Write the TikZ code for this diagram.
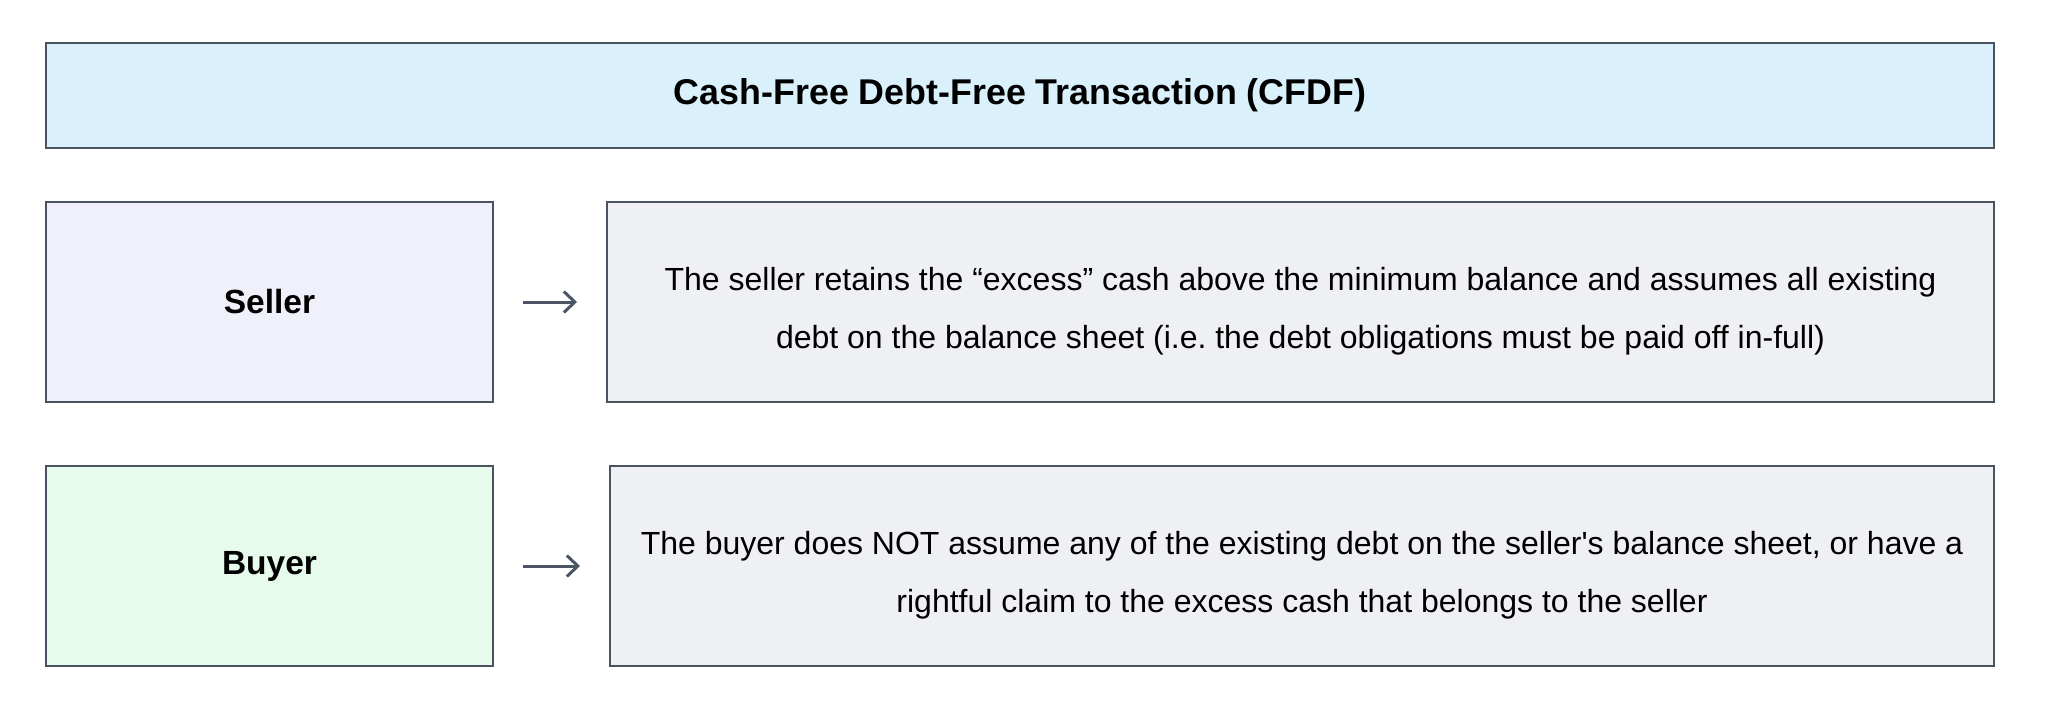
\documentclass[tikz,border=0pt]{standalone}
\usepackage{fontspec}
\setmainfont{Liberation Sans}
\usetikzlibrary{arrows.meta}
\frenchspacing
\definecolor{bordc}{HTML}{4A5461}
\definecolor{titlefill}{HTML}{DAF0FB}
\definecolor{sellerfill}{HTML}{EFF0F9}
\definecolor{buyerfill}{HTML}{E7FBEC}
\definecolor{descfill}{HTML}{EFF0F4}
\definecolor{arrc}{HTML}{4B5563}
\tikzset{
  boxbase/.style={draw=bordc, line width=1.8pt, inner sep=0pt, outer sep=0pt, anchor=north west},
  titlebox/.style={boxbase, fill=titlefill, minimum width=1948pt, minimum height=105pt, font=\fontsize{35.8}{42}\selectfont\bfseries},
  rolebox/.style={boxbase, minimum width=447pt, minimum height=200pt, font=\fontsize{33.5}{40}\selectfont\bfseries},
  descbox/.style={boxbase, fill=descfill, minimum height=200pt},
  desctext/.style={align=center, inner sep=0pt, font=\fontsize{32}{57.5}\selectfont},
  conn/.style={draw=arrc, line width=3pt, -{Straight Barb[length=11pt,width=21pt,line width=3pt]}, shorten <=30pt, shorten >=30pt}
}
\begin{document}
\begin{tikzpicture}[x=1pt,y=1pt]
\useasboundingbox (0,0) rectangle (2048,-726);
\node[titlebox] (title) at (46,-43) {Cash-Free Debt-Free Transaction (CFDF)};
\node[rolebox, fill=sellerfill] (seller) at (46,-202) {Seller};
\node[descbox, minimum width=1387pt] (desc1) at (607,-202) {};
\node[desctext] (desc1text) at ([yshift=-9pt]desc1.center) {The seller retains the “excess” cash above the minimum balance and assumes all existing\\debt on the balance sheet (i.e. the debt obligations must be paid off in-full)};
\node[rolebox, fill=buyerfill] (buyer) at (46,-466) {Buyer};
\node[descbox, minimum width=1384pt] (desc2) at (610,-466) {};
\node[desctext] (desc2text) at ([yshift=-9pt]desc2.center) {The buyer does NOT assume any of the existing debt on the seller\textquotesingle s balance sheet, or have a\\rightful claim to the excess cash that belongs to the seller};
\draw[conn] (seller) -- (desc1);
\draw[conn] (buyer) -- (desc2);
\end{tikzpicture}
\end{document}
